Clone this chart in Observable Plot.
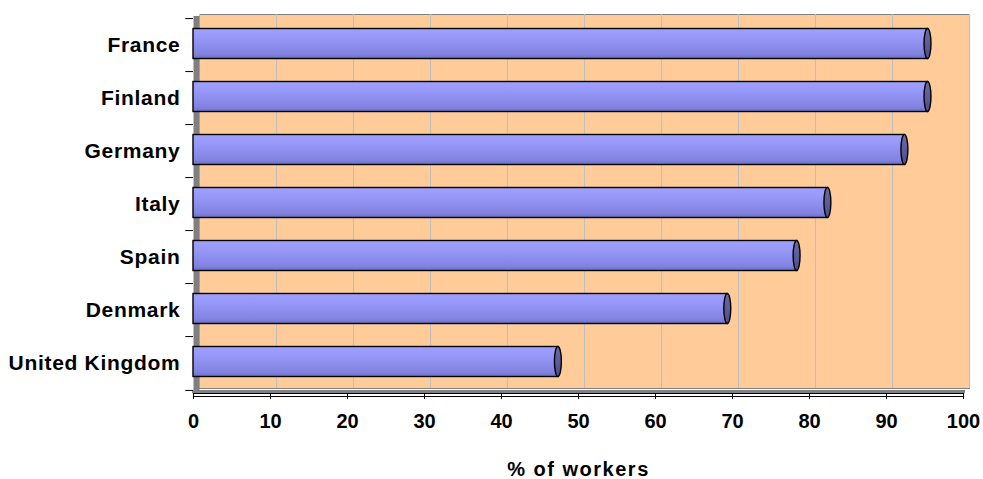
<!DOCTYPE html>
<html><head><meta charset="utf-8">
<script src="https://cdn.jsdelivr.net/npm/d3@7"></script>
<script src="https://cdn.jsdelivr.net/npm/@observablehq/plot@0.6"></script>
<style>body{margin:0;background:#fff;} #chart svg{display:block;}</style>
</head><body><div id="chart"></div>
<script>
const countries = ["France","Finland","Germany","Italy","Spain","Denmark","United Kingdom"];
const values = [95,95,92,82,78,69,47];
const xTicks = [0,10,20,30,40,50,60,70,80,90,100];
const axisLabel = "% of workers";

const data = countries.map((c,i)=>({country:c, value:values[i]}));
const lastCountry = [countries[countries.length-1]];

const plot = Plot.plot({
  width: 983, height: 479,
  marginLeft: 193, marginRight: 20, marginTop: 16, marginBottom: 86,
  style: {fontFamily: "'Liberation Sans', Arial, sans-serif", fontWeight: "bold", fontSize: "20px", background: "#fff", color: "#000"},
  x: {domain: [0,100]},
  y: {domain: countries, paddingInner: 0.43, paddingOuter: 0.215},
  marks: [
    Plot.frame({fill:"#FFCC99", stroke:"#808080", dx:6, dy:-2, insetBottom:3}),
    Plot.gridX(xTicks, {stroke:"#C0C0C0", strokeOpacity:1, strokeWidth:1.2, dx:6, dy:-2, insetBottom:3}),
    Plot.ruleX([0], {stroke:"#808080", strokeWidth:6, dx:3}),
    Plot.frame({anchor:"bottom", stroke:"#808080", strokeWidth:3, dy:-2}),
    Plot.frame({anchor:"bottom", stroke:"#000", strokeWidth:1.2}),
    Plot.frame({anchor:"bottom", stroke:"#000", strokeWidth:1.2, dy:3}),
    Plot.ruleY(countries, {x1:-1, x2:0, dy:-26.93, stroke:"#000", clip:false}),
    Plot.ruleY(lastCountry, {x1:-1, x2:0, dy:26.93, stroke:"#000", clip:false}),
    Plot.barX(data, {x:"value", y:"country", fill:"url(#cyl)", stroke:"#000", strokeWidth:1.4, insetRight:-3, dy:-1.5}),
    Plot.barX(data, {x1: d=>d.value-0.45, x2: d=>d.value+0.45, y:"country", fill:"url(#cap)", stroke:"#000", strokeWidth:1.4, rx:3.5, ry:16, dx:3, dy:-1.5}),
    Plot.axisX({ticks: xTicks, tickSize: 6, tickPadding: 14, tickFormat: d=>String(d), label: axisLabel, labelAnchor: "center", labelArrow: "none", labelOffset: 82}),
    Plot.axisY({tickSize: 0, tickPadding: 13, label: null, fontSize: 21})
  ]
});

const svg = d3.select(plot);
svg.insert("defs", ":first-child").html(`
  <linearGradient id="cyl" x1="0" y1="0" x2="0" y2="1">
    <stop offset="0" stop-color="#A0A0FF"/>
    <stop offset="0.3" stop-color="#9898FA"/>
    <stop offset="0.55" stop-color="#8E8EEE"/>
    <stop offset="0.85" stop-color="#8282E0"/>
    <stop offset="1" stop-color="#7070C8"/>
  </linearGradient>
  <linearGradient id="cap" x1="0" y1="0" x2="0" y2="1">
    <stop offset="0" stop-color="#6A6AAA"/>
    <stop offset="1" stop-color="#4E4E8A"/>
  </linearGradient>`);
svg.selectAll('g[aria-label="x-axis label"] text').attr("letter-spacing", "1.5px");
svg.selectAll('g[aria-label="y-axis tick label"] text').attr("letter-spacing", "0.7px");
document.getElementById("chart").appendChild(plot);
</script>
</body></html>
